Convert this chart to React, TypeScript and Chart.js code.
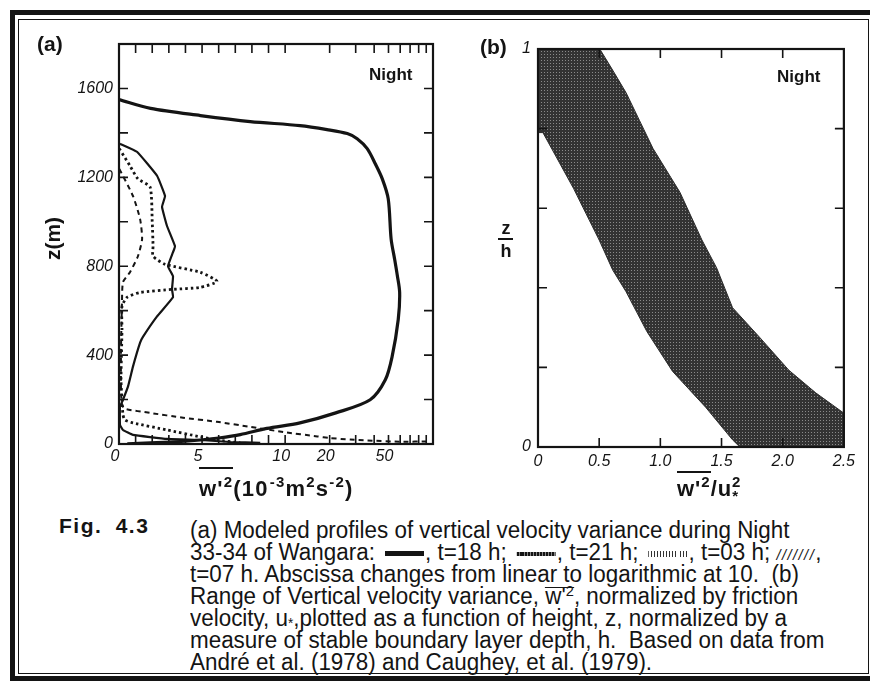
import React, { useEffect, useRef } from "react";
import { Chart, registerables } from "chart.js";

Chart.register(...registerables);

// ---------- Panel (a): abscissa linear 0-10, logarithmic 10-100 ----------
const DECADE_UNITS = 8.9;
const toAxis = (v: number) => (v <= 10 ? v : 10 + DECADE_UNITS * Math.log10(v / 10));

const zLabelTicksA = [0, 400, 800, 1200, 1600];
const zMarkTicksA = [200, 400, 600, 800, 1000, 1200, 1400, 1600];
const xLabelTicksA = [0, 5, 10, 20, 50];
const xMarkTicksA = [1, 2, 3, 4, 5, 6, 7, 8, 9, 10, 20, 30, 40, 50, 60, 70, 80, 90];

// [w'^2 (1e-3 m2 s-2), z (m)]
const t18 = [
  [0, 1550], [1.9, 1510], [4.9, 1478], [7.9, 1451], [12.6, 1433], [19.2, 1415],
  [26.3, 1397], [30.7, 1374], [35.9, 1329], [40.7, 1261], [45.4, 1193], [49.8, 1103],
  [52.1, 922], [55, 832], [57.3, 760], [59.5, 682], [58.2, 560], [52.9, 393],
  [47.6, 289], [37.6, 199], [22, 140], [12.6, 95], [8.9, 70], [7.3, 42],
  [6, 27], [4.9, 18], [3, 8], [1.9, 5], [0.5, 1],
];
const t21 = [
  [0.06, 1351], [1.08, 1315], [2.29, 1207], [2.77, 1116], [2.59, 1067], [2.89, 981],
  [3.37, 890], [3.25, 863], [2.95, 800], [3.25, 755], [3.19, 696], [3.25, 660],
  [2.29, 574], [1.45, 483], [1.27, 456], [0.84, 348], [0.54, 258], [0.24, 199],
  [0.06, 167], [0.06, 86], [0.24, 63], [0.84, 41], [2.9, 23], [4.9, 18], [6.7, 9], [8.5, 5],
];
const t03 = [
  [0.02, 1329], [0.66, 1252], [1.14, 1193], [1.87, 1157], [2.0, 1000], [2.05, 890],
  [2.05, 845], [2.77, 809], [4.88, 773], [5.9, 732], [4.88, 705], [3.25, 696],
  [1.27, 682], [0.48, 660], [0.18, 619], [0.18, 515], [0.12, 289], [0.18, 199],
  [0.24, 131], [0.36, 108], [0.84, 95], [2.9, 63], [4.9, 32], [5.9, 18], [7.3, 5],
];
const t07 = [
  [0.02, 1238], [0.84, 1116], [1.27, 1012], [1.39, 922], [1.14, 845], [0.66, 773],
  [0.24, 728], [0.18, 637], [0.12, 425], [0.12, 244], [0.18, 176], [0.36, 158],
  [1.87, 140], [3.86, 118], [5.9, 100], [7.9, 77], [9.9, 54], [16.5, 34],
  [20, 27], [27.5, 20], [36, 16], [60, 10], [95, 12],
];

// ---------- Panel (b) ----------
const xLabelTicksB = [0, 0.5, 1.0, 1.5, 2.0, 2.5];
const xMarkTicksB = [0.5, 1.0, 1.5, 2.0];
const zLabelTicksB = [0, 1];
const zMarkTicksB = [0.2, 0.4, 0.6, 0.8];
// [w'^2/u*^2, z/h]
const bandLeft = [
  [0, 1.0], [0, 0.79], [0.04, 0.79], [0.29, 0.65], [0.5, 0.52], [0.61, 0.445],
  [0.72, 0.39], [0.89, 0.29], [1.1, 0.19], [1.37, 0.1], [1.59, 0.018], [1.65, 0],
];
const bandRight = [
  [2.5, 0], [2.5, 0.085], [2.27, 0.136], [2.05, 0.193], [1.81, 0.276], [1.59, 0.35],
  [1.46, 0.45], [1.34, 0.52], [1.16, 0.64], [0.94, 0.75], [0.83, 0.82], [0.72, 0.89],
  [0.61, 0.947], [0.505, 1.0],
];

const INK = "#141414";
const SANS = "'Liberation Sans', Arial, Helvetica, sans-serif";

const frameTicks = {
  id: "frameTicks",
  afterDatasetsDraw(chart: any, _args: any, opts: any) {
    const { ctx, chartArea: a, scales } = chart;
    ctx.save();
    ctx.strokeStyle = INK;
    ctx.lineWidth = 1.6;
    const len = opts.len || 8;
    (opts.xs || []).forEach((v: number) => {
      const px = scales.x.getPixelForValue(v);
      ctx.beginPath();
      ctx.moveTo(px, a.bottom);
      ctx.lineTo(px, a.bottom - len);
      ctx.moveTo(px, a.top);
      ctx.lineTo(px, a.top + len);
      ctx.stroke();
    });
    (opts.ys || []).forEach((v: number) => {
      const py = scales.y.getPixelForValue(v);
      ctx.beginPath();
      ctx.moveTo(a.left, py);
      ctx.lineTo(a.left + len, py);
      ctx.moveTo(a.right, py);
      ctx.lineTo(a.right - len, py);
      ctx.stroke();
    });
    ctx.lineWidth = 2.2;
    ctx.strokeRect(a.left, a.top, a.right - a.left, a.bottom - a.top);
    ctx.restore();
  },
};

const lineDs = (pts: number[][], width: number, dash: number[], tension: number, map: (v: number) => number) => ({
  data: pts.map(([x, z]) => ({ x: map(x), y: z })),
  borderColor: INK,
  borderWidth: width,
  borderDash: dash,
  pointRadius: 0,
  tension,
  fill: false,
});

function PanelA() {
  const ref = useRef<HTMLCanvasElement>(null);
  useEffect(() => {
    const chart = new Chart(ref.current as HTMLCanvasElement, {
      type: "line",
      data: {
        datasets: [
          lineDs(t07, 2, [5, 4], 0.2, toAxis),
          lineDs(t03, 2.8, [2.5, 3], 0.2, toAxis),
          lineDs(t21, 2.2, [], 0.1, toAxis),
          lineDs(t18, 3.2, [], 0.3, toAxis),
        ] as any,
      },
      options: {
        animation: false,
        responsive: false,
        maintainAspectRatio: false,
        layout: { padding: { left: 0, right: 12, top: 24, bottom: 0 } },
        plugins: {
          legend: { display: false },
          tooltip: { enabled: false },
          frameTicks: { xs: xMarkTicksA.map(toAxis), ys: zMarkTicksA, len: 9 },
        } as any,
        scales: {
          x: {
            type: "linear",
            min: 0,
            max: toAxis(100),
            afterBuildTicks: (s: any) => {
              s.ticks = xLabelTicksA.map((v) => ({ value: toAxis(v) }));
            },
            afterFit: (s: any) => {
              s.height = 36;
            },
            ticks: {
              autoSkip: false,
              maxRotation: 0,
              padding: 3,
              labelOffset: -4,
              color: INK,
              font: { family: SANS, style: "italic", size: 16 },
              callback: (_v: any, i: number) => String(xLabelTicksA[i]),
            },
            grid: { display: false, drawTicks: false },
            border: { display: false },
          },
          y: {
            type: "linear",
            min: 0,
            max: 1800,
            afterBuildTicks: (s: any) => {
              s.ticks = zLabelTicksA.map((v) => ({ value: v }));
            },
            afterFit: (s: any) => {
              s.width = 109;
            },
            ticks: {
              autoSkip: false,
              padding: 6,
              color: INK,
              font: { family: SANS, style: "italic", size: 16 },
              callback: (v: any) => String(v),
            },
            grid: { display: false, drawTicks: false },
            border: { display: false },
          },
        },
      } as any,
      plugins: [frameTicks as any],
    });
    return () => chart.destroy();
  }, []);
  return (
    <canvas
      ref={ref}
      width={435}
      height={460}
      style={{ position: "absolute", left: 2, top: 12, width: 435, height: 460 }}
    />
  );
}

function PanelB() {
  const ref = useRef<HTMLCanvasElement>(null);
  useEffect(() => {
    const canvas = ref.current as HTMLCanvasElement;
    const pc = document.createElement("canvas");
    pc.width = 3;
    pc.height = 3;
    const pctx = pc.getContext("2d") as CanvasRenderingContext2D;
    pctx.fillStyle = "#333333";
    pctx.fillRect(0, 0, 3, 3);
    pctx.fillStyle = "#8a8a8a";
    pctx.fillRect(1, 1, 1, 1);
    const pattern = (canvas.getContext("2d") as CanvasRenderingContext2D).createPattern(pc, "repeat");
    const band = [...bandLeft, ...bandRight, bandLeft[0]];
    const chart = new Chart(canvas, {
      type: "line",
      data: {
        datasets: [
          {
            data: band.map(([x, z]) => ({ x, y: z })),
            borderColor: "#2a2a2a",
            borderWidth: 1,
            pointRadius: 0,
            tension: 0,
            fill: "shape",
            backgroundColor: pattern,
          },
        ] as any,
      },
      options: {
        animation: false,
        responsive: false,
        maintainAspectRatio: false,
        layout: { padding: { left: 0, right: 15, top: 29, bottom: 0 } },
        plugins: {
          legend: { display: false },
          tooltip: { enabled: false },
          frameTicks: { xs: xMarkTicksB, ys: zMarkTicksB, len: 9 },
        } as any,
        scales: {
          x: {
            type: "linear",
            min: 0,
            max: 2.5,
            afterBuildTicks: (s: any) => {
              s.ticks = xLabelTicksB.map((v) => ({ value: v }));
            },
            afterFit: (s: any) => {
              s.height = 43;
            },
            ticks: {
              autoSkip: false,
              maxRotation: 0,
              padding: 5,
              color: INK,
              font: { family: SANS, style: "italic", size: 16 },
              callback: (_v: any, i: number) => (i === 0 ? "0" : xLabelTicksB[i].toFixed(1)),
            },
            grid: { display: false, drawTicks: false },
            border: { display: false },
          },
          y: {
            type: "linear",
            min: 0,
            max: 1,
            afterBuildTicks: (s: any) => {
              s.ticks = zLabelTicksB.map((v) => ({ value: v }));
            },
            afterFit: (s: any) => {
              s.width = 88;
            },
            ticks: {
              autoSkip: false,
              padding: 7,
              color: INK,
              font: { family: SANS, style: "italic", size: 16 },
              callback: (v: any) => String(v),
            },
            grid: { display: false, drawTicks: false },
            border: { display: false },
          },
        },
      } as any,
      plugins: [frameTicks as any],
    });
    return () => chart.destroy();
  }, []);
  return (
    <canvas
      ref={ref}
      width={410}
      height={470}
      style={{ position: "absolute", left: 442, top: 12, width: 410, height: 470 }}
    />
  );
}

const abs = (left: number, top: number, extra: React.CSSProperties = {}): React.CSSProperties => ({
  position: "absolute",
  left: left - 8,
  top: top - 8,
  lineHeight: 1,
  whiteSpace: "nowrap",
  color: INK,
  ...extra,
});

const bar = (left: number, top: number, width: number): React.CSSProperties =>
  abs(left, top, { width, height: 2, background: INK });

const sup = (size: number, rise: number, extra: React.CSSProperties = {}): React.CSSProperties => ({
  fontSize: size,
  lineHeight: 0,
  position: "relative",
  top: -rise,
  verticalAlign: "baseline",
  ...extra,
});

const sym = (bg: string, h: number): React.CSSProperties => ({
  display: "inline-block",
  width: 40,
  height: h,
  background: bg,
  verticalAlign: "middle",
  margin: "0 1px 0 4px",
});

const captionLine: React.CSSProperties = { height: 22, lineHeight: "22px" };

export default function App() {
  return (
    <div style={{ position: "relative", width: 870, height: 675, fontFamily: SANS, background: "#fff" }}>
      {/* frame */}
      <div style={abs(10, 10, { width: 867, height: 671, border: `5px solid ${INK}`, boxSizing: "border-box" })} />
      <div style={abs(18, 19, { width: 851, height: 655, border: `1.5px solid ${INK}`, boxSizing: "border-box" })} />

      <PanelA />
      <PanelB />

      {/* panel (a) texts */}
      <div style={abs(37, 33, { fontWeight: 700, fontSize: 21 })}>(a)</div>
      <div style={abs(369, 66, { fontWeight: 700, fontSize: 17 })}>Night</div>
      <div
        style={abs(26, 228, {
          fontWeight: 700,
          fontSize: 21,
          transform: "rotate(-90deg)",
          transformOrigin: "center",
          width: 52,
          textAlign: "center",
        })}
      >
        z(m)
      </div>
      <div style={bar(199, 467, 34)} />
      <div style={abs(199, 478, { fontWeight: 700, fontSize: 22, letterSpacing: 1.2 })}>
        w'<span style={sup(15, 9)}>2</span>(10<span style={sup(15, 9, { marginLeft: 1 })}>-3</span>m
        <span style={sup(15, 9)}>2</span>s<span style={sup(15, 9)}>-2</span>)
      </div>

      {/* panel (b) texts */}
      <div style={abs(480, 36, { fontWeight: 700, fontSize: 21 })}>(b)</div>
      <div style={abs(777, 68, { fontWeight: 700, fontSize: 17 })}>Night</div>
      <div style={abs(499, 219, { fontWeight: 700, fontSize: 18, width: 14, textAlign: "center" })}>z</div>
      <div style={bar(498, 238, 15)} />
      <div style={abs(499, 242, { fontWeight: 700, fontSize: 18, width: 14, textAlign: "center" })}>h</div>
      <div style={bar(677, 471, 34)} />
      <div style={abs(677, 478, { fontWeight: 700, fontSize: 22, letterSpacing: 1 })}>
        w'<span style={sup(15, 9)}>2</span>/u<span style={sup(15, -5)}>*</span>
        <span style={sup(15, 9, { marginLeft: -7 })}>2</span>
      </div>

      {/* caption */}
      <div style={abs(59, 515, { fontWeight: 700, fontSize: 21, letterSpacing: 1.5, wordSpacing: 6 })}>Fig. 4.3</div>
      <div
        style={abs(190, 519, {
          fontSize: 23,
          transform: "scaleX(0.975)",
          transformOrigin: "left top",
        })}
      >
        <div style={captionLine}>(a) Modeled profiles of vertical velocity variance during Night</div>
        <div style={captionLine}>
          33-34 of Wangara: <span style={sym(INK, 5)} />, t=18 h;{" "}
          <span style={sym(`repeating-linear-gradient(90deg, ${INK} 0 2px, #888 2px 3px)`, 4)} />, t=21 h;{" "}
          <span style={sym(`repeating-linear-gradient(90deg, #333 0 1px, transparent 1px 3px)`, 6)} />, t=03 h;{" "}
          <span style={{ fontSize: 15, fontStyle: "italic", letterSpacing: 1.5 }}>///////</span>,
        </div>
        <div style={captionLine}>t=07 h. Abscissa changes from linear to logarithmic at 10.&nbsp; (b)</div>
        <div style={captionLine}>
          Range of Vertical velocity variance,{" "}
          <span style={{ display: "inline-block", borderTop: `1.5px solid ${INK}`, lineHeight: "17px" }}>
            w'<span style={sup(15, 8)}>2</span>
          </span>
          , normalized by friction
        </div>
        <div style={captionLine}>
          velocity, u<span style={sup(14, -2)}>*</span>,plotted as a function of height, z, normalized by a
        </div>
        <div style={captionLine}>measure of stable boundary layer depth, h.&nbsp; Based on data from</div>
        <div style={captionLine}>André et al. (1978) and Caughey, et al. (1979).</div>
      </div>
    </div>
  );
}
